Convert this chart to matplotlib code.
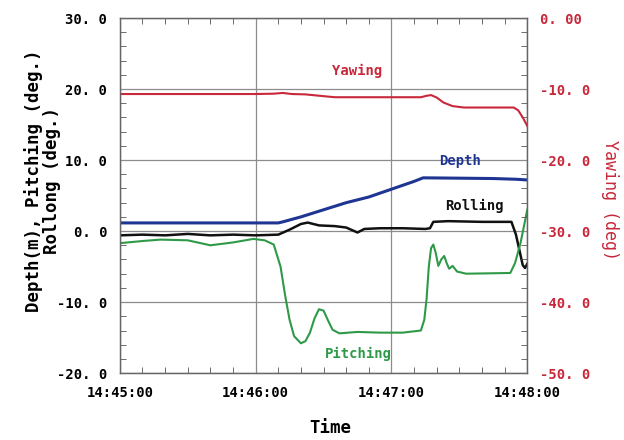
import matplotlib
matplotlib.use('Agg')
import matplotlib.pyplot as plt
from matplotlib.ticker import MultipleLocator

# time in seconds from 14:45:00
time_ticks = [0, 60, 120, 180]
time_labels = ['14:45:00', '14:46:00', '14:47:00', '14:48:00']

left_ticks = [-20, -10, 0, 10, 20, 30]
left_labels = ['-20. 0', '-10. 0', '0. 0', '10. 0', '20. 0', '30. 0']
right_ticks = [-50, -40, -30, -20, -10, 0]
right_labels = ['-50. 0', '-40. 0', '-30. 0', '-20. 0', '-10. 0', '0. 00']

# depth (m)
t_depth = [0, 20, 40, 60, 70, 72, 80, 90, 100, 110, 120, 130, 134, 150, 165, 175, 180]
depth = [1.15, 1.15, 1.15, 1.15, 1.15, 1.3, 2.0, 3.0, 4.0, 4.8, 5.9, 7.0, 7.5, 7.45, 7.4, 7.3, 7.2]

# rolling (deg.)
t_roll = [0, 10, 20, 30, 40, 50, 60, 70, 75, 80, 83, 88, 95, 100, 105, 108, 115,
          125, 135, 137, 138.5, 145, 160, 173, 175, 178, 179, 180]
rolling = [-0.6, -0.5, -0.6, -0.4, -0.6, -0.5, -0.6, -0.5, 0.2, 1.0, 1.2, 0.8, 0.7, 0.5,
           -0.2, 0.3, 0.4, 0.4, 0.3, 0.4, 1.3, 1.4, 1.3, 1.3, -0.5, -4.8, -5.2, -4.6]

# pitching (deg.)
t_pitch = [0, 10, 18, 30, 40, 50, 59, 64, 68, 71, 73, 75, 77, 80, 82, 84, 86, 88, 90,
           92, 94, 97, 105, 115, 125, 133, 134.5, 135.5, 136.5, 137.5, 138.5, 139.5,
           140.7, 142, 143.3, 144.5, 145.5, 147, 149, 153, 172.5, 174.6, 177, 180]
pitching = [-1.7, -1.4, -1.2, -1.3, -2.0, -1.6, -1.1, -1.3, -1.9, -5.0, -9.0, -12.5,
            -14.8, -15.8, -15.5, -14.3, -12.3, -11.0, -11.2, -12.6, -13.9, -14.4, -14.2,
            -14.3, -14.3, -14.0, -12.5, -9.6, -5.0, -2.4, -1.9, -3.0, -4.9, -4.0, -3.5,
            -4.6, -5.3, -4.9, -5.7, -6.0, -5.9, -4.5, -1.7, 3.0]

# yawing (deg), right axis
t_yaw = [0, 30, 60, 68, 72, 76, 82, 90, 95, 115, 133, 135.5, 137.5, 140, 143, 147,
         152, 165, 174, 176, 178, 180]
yawing = [-10.7, -10.7, -10.7, -10.65, -10.55, -10.7, -10.75, -11.0, -11.15, -11.15,
          -11.15, -10.95, -10.85, -11.2, -11.9, -12.4, -12.6, -12.6, -12.6, -13.0,
          -14.0, -15.2]

red = '#c8283a'
mono = 'DejaVu Sans Mono'

fig = plt.figure(figsize=(6.24, 4.4), dpi=100)
ax = fig.add_axes([0.192, 0.152, 0.653, 0.807])
ax2 = ax.twinx()

ax.plot(t_depth, depth, color='#1f3593', linewidth=2.2)
ax.plot(t_roll, rolling, color='#111111', linewidth=1.8)
ax.plot(t_pitch, pitching, color='#2e9a48', linewidth=1.5)
ax2.plot(t_yaw, yawing, color=red, linewidth=1.5)

ax.set_xlim(0, 180)
ax.set_ylim(-20, 30)
ax2.set_ylim(-50, 0)

ax.set_xticks(time_ticks)
ax.set_xticklabels(time_labels, family=mono, fontweight='bold', fontsize=10)
ax.set_yticks(left_ticks)
ax.set_yticklabels(left_labels, family=mono, fontweight='bold', fontsize=10)
ax2.set_yticks(right_ticks)
ax2.set_yticklabels(right_labels, family=mono, fontweight='bold', fontsize=10, color=red)

ax.xaxis.set_minor_locator(MultipleLocator(10))
ax.yaxis.set_minor_locator(MultipleLocator(2))
ax2.yaxis.set_minor_locator(MultipleLocator(2))
ax.tick_params(which='both', direction='in', top=True, color='#555555')
ax.tick_params(which='major', length=0, pad=9)
ax.tick_params(which='minor', length=4)
ax2.tick_params(which='both', direction='in', color='#555555')
ax2.tick_params(which='major', length=0, pad=9)
ax2.tick_params(which='minor', length=4)

ax.grid(True, which='major', color='#8c8c8c', linewidth=0.9)
for sp in list(ax.spines.values()) + list(ax2.spines.values()):
    sp.set_color('#666666')
    sp.set_linewidth(0.9)

# series names inside the plot
ax.text(104.8, 22.5, 'Yawing', color=red, family=mono, fontweight='bold', fontsize=10,
        ha='center', va='center')
ax.text(150.3, 9.8, 'Depth', color='#1f3593', family=mono, fontweight='bold', fontsize=10,
        ha='center', va='center')
ax.text(156.5, 3.6, 'Rolling', color='#111111', family=mono, fontweight='bold', fontsize=10,
        ha='center', va='center')
ax.text(105.2, -17.25, 'Pitching', color='#2e9a48', family=mono, fontweight='bold',
        fontsize=10, ha='center', va='center')

fig.text(0.068, 0.59, 'Depth(m), Pitching (deg.)\nRollong (deg.)', rotation=90,
         family=mono, fontweight='bold', fontsize=12.5, ha='center', va='center',
         linespacing=0.95)
fig.text(0.978, 0.545, 'Yawing (deg)', rotation=270, color=red, family=mono,
         fontsize=12, ha='center', va='center')
fig.text(0.53, 0.027, 'Time', family=mono, fontweight='bold', fontsize=12.5,
         ha='center', va='center')

fig.savefig('out.png', dpi=100)
